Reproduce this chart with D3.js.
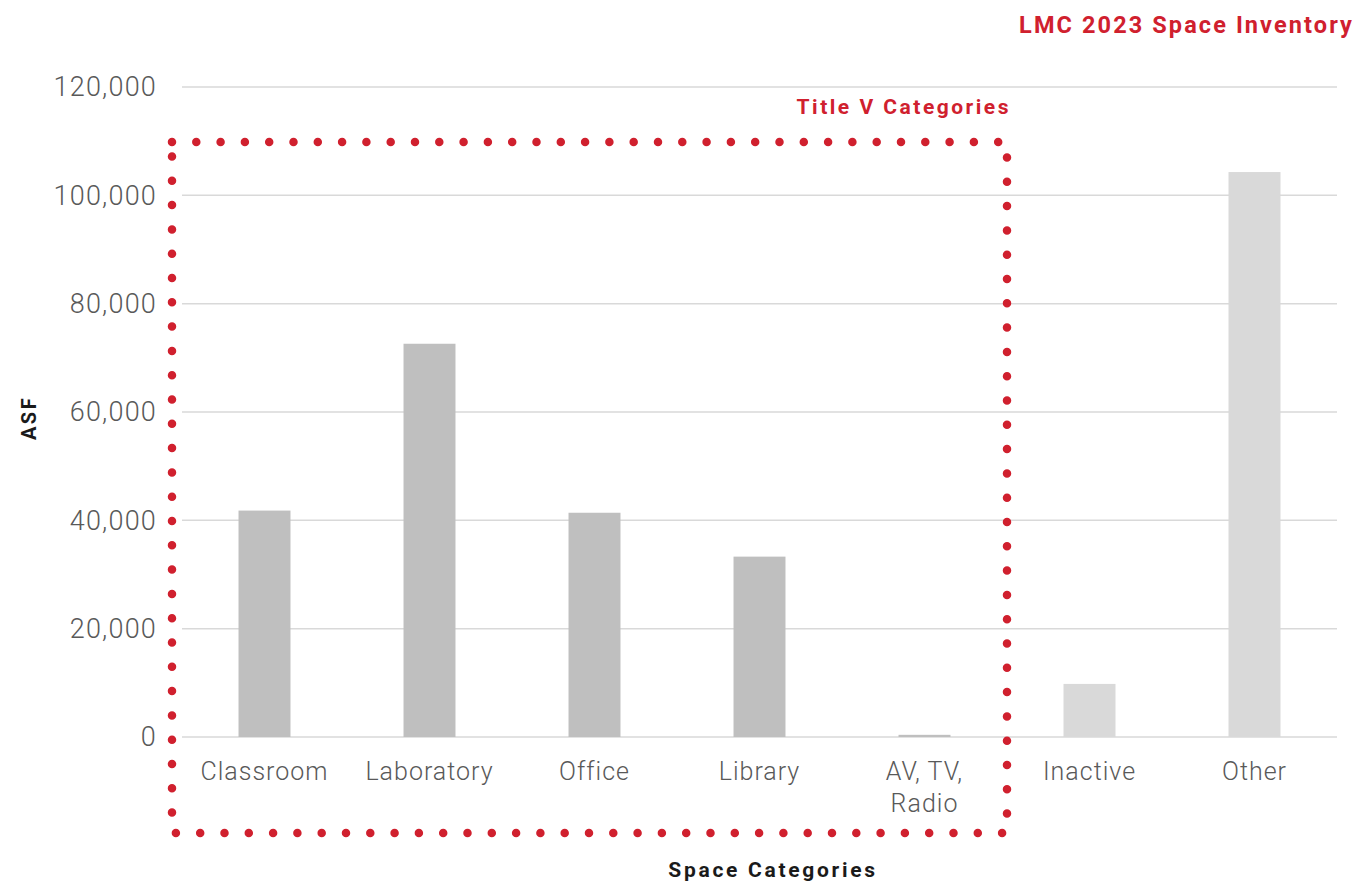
<!DOCTYPE html>
<html>
<head>
<meta charset="utf-8">
<script src="https://cdn.jsdelivr.net/npm/d3@7"></script>
<style>
  body { margin: 0; background: #fff; }
  svg { display: block; }
</style>
</head>
<body>
<div id="chart"></div>
<script>
// data
const categories = ['Classroom', 'Laboratory', 'Office', 'Library', 'AV, TV,|Radio', 'Inactive', 'Other'];
const asf = [41800, 72600, 41400, 33300, 400, 9800, 104300];
const titleV = [true, true, true, true, true, false, false];
const yTicks = [0, 20000, 40000, 60000, 80000, 100000, 120000];

const width = 1359, height = 881;
const margin = {top: 87, right: 22, bottom: 144, left: 182};

const svg = d3.select('#chart').append('svg')
    .attr('width', width)
    .attr('height', height);

const x = d3.scaleBand()
    .domain(categories)
    .range([margin.left, width - margin.right])
    .paddingInner(0.685)
    .paddingOuter(0.3425);

const y = d3.scaleLinear()
    .domain([0, 120000])
    .range([height - margin.bottom, margin.top]);

// gridlines
svg.append('g')
  .selectAll('line')
  .data(yTicks)
  .join('line')
    .attr('x1', margin.left)
    .attr('x2', width - margin.right)
    .attr('y1', d => y(d))
    .attr('y2', d => y(d))
    .attr('stroke', '#d9d9d9')
    .attr('stroke-width', 1.5);

// y tick labels
svg.append('g')
  .selectAll('text')
  .data(yTicks)
  .join('text')
    .attr('x', 157)
    .attr('y', d => y(d))
    .attr('dy', '0.35em')
    .attr('text-anchor', 'end')
    .attr('fill', '#595959')
    .style('font', '300 27px Roboto, sans-serif')
    .style('letter-spacing', '1.2px')
    .text(d => d3.format(',')(d));

// bars
svg.append('g')
  .selectAll('rect')
  .data(categories)
  .join('rect')
    .attr('x', d => x(d))
    .attr('width', x.bandwidth())
    .attr('y', (d, i) => y(asf[i]))
    .attr('height', (d, i) => y(0) - y(asf[i]))
    .attr('fill', (d, i) => titleV[i] ? '#bfbfbf' : '#d9d9d9');

// category labels
const xl = svg.append('g')
  .selectAll('text')
  .data(categories)
  .join('text')
    .attr('x', d => x(d) + x.bandwidth() / 2)
    .attr('y', 780)
    .attr('text-anchor', 'middle')
    .attr('fill', '#595959')
    .style('font', '300 25px Roboto, sans-serif')
    .style('letter-spacing', '1px');

xl.selectAll('tspan')
  .data(d => d.split('|'))
  .join('tspan')
    .attr('x', function () { return this.parentNode.getAttribute('x'); })
    .attr('dy', (d, i) => i ? 32 : 0)
    .text(d => d);

// dotted box around the Title V categories
const boxL = 172, boxT = 142, boxR = 1007, boxB = 833;
svg.append('path')
    .attr('d', `M${boxL},${boxT}H${boxR}V${boxB}H${boxL}Z`)
    .attr('fill', 'none')
    .attr('stroke', '#d0202e')
    .attr('stroke-width', 8.5)
    .attr('stroke-linecap', 'round')
    .attr('stroke-dasharray', '0 24.3');

svg.append('text')
    .attr('x', 1011)
    .attr('y', 114)
    .attr('text-anchor', 'end')
    .attr('fill', '#d0202e')
    .style('font', 'bold 21px Roboto, sans-serif')
    .style('letter-spacing', '2.5px')
    .text('Title V Categories');

// titles
svg.append('text')
    .attr('x', 1354)
    .attr('y', 33)
    .attr('text-anchor', 'end')
    .attr('fill', '#d0202e')
    .style('font', 'bold 23.5px Roboto, sans-serif')
    .style('letter-spacing', '2.1px')
    .text('LMC 2023 Space Inventory');

svg.append('text')
    .attr('x', 773)
    .attr('y', 877)
    .attr('text-anchor', 'middle')
    .attr('fill', '#1a1a1a')
    .style('font', 'bold 21px Roboto, sans-serif')
    .style('letter-spacing', '2.7px')
    .text('Space Categories');

svg.append('text')
    .attr('transform', 'translate(36,418) rotate(-90)')
    .attr('text-anchor', 'middle')
    .attr('fill', '#1a1a1a')
    .style('font', 'bold 20px Roboto, sans-serif')
    .style('letter-spacing', '2.5px')
    .text('ASF');
</script>
</body>
</html>
